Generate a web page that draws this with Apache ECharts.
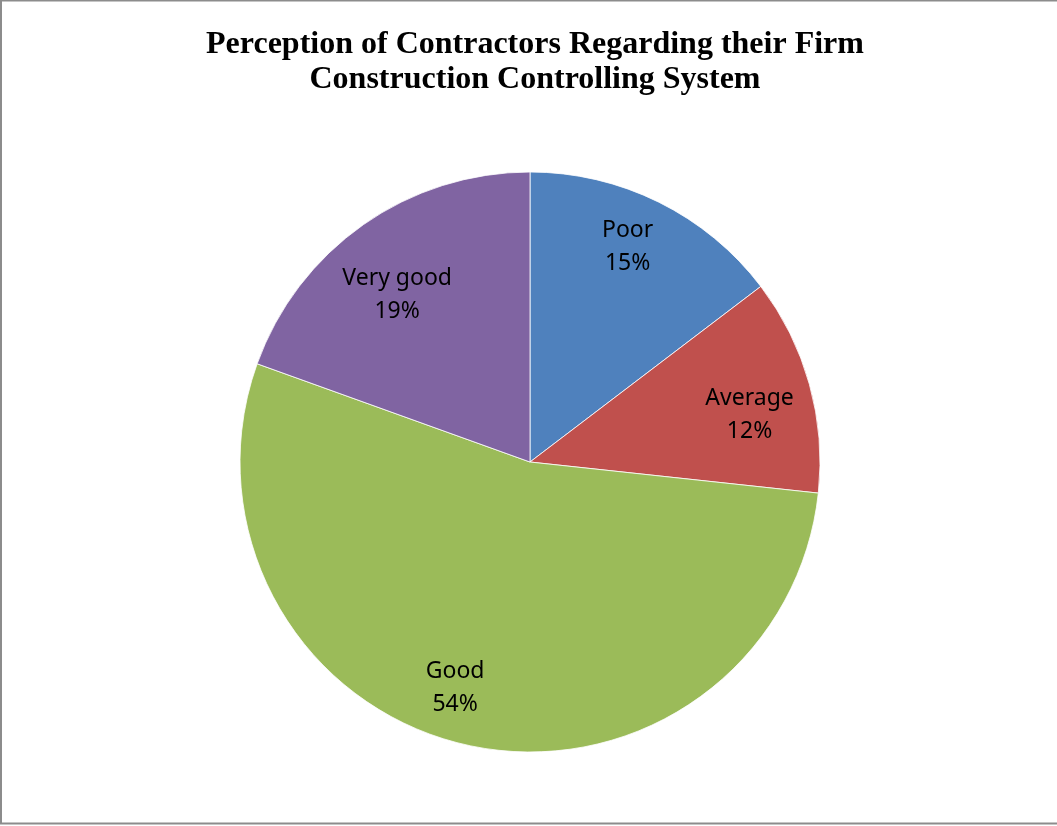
<!DOCTYPE html>
<html>
<head>
<meta charset="utf-8">
<script src="https://cdn.jsdelivr.net/npm/echarts@6/dist/echarts.min.js"></script>
<style>
html,body{margin:0;padding:0;background:#fff;}
#chart{width:1057px;height:826px;}
</style>
</head>
<body>
<div id="chart"></div>
<script>
var categories = ['Poor', 'Average', 'Good', 'Very good'];
var values = [14.65, 12.06, 53.79, 19.5];
var percentLabels = ['15%', '12%', '54%', '19%'];
var colors = ['#4F81BD', '#C0504D', '#9BBB59', '#8064A2'];
var labelShift = [[-5, -8], [-3, 15], [-23, 1], [0, 22]];

var chart = echarts.init(document.getElementById('chart'));
var pieData = categories.map(function (c, i) {
  return { name: c, value: values[i], itemStyle: { color: colors[i] } };
});
var labelData = categories.map(function (c, i) {
  return { name: c, value: values[i] };
});

chart.setOption({
  animation: false,
  title: {
    text: 'Perception of Contractors Regarding their Firm\nConstruction Controlling System',
    left: 530,
    textAlign: 'center',
    top: 22,
    textStyle: {
      fontFamily: 'Liberation Serif',
      fontWeight: 'bold',
      fontSize: 32,
      lineHeight: 35,
      color: '#000'
    }
  },
  graphic: [{
    type: 'rect',
    shape: { x: 1, y: 0.5, width: 1070, height: 823 },
    style: { fill: 'none', stroke: '#8c8c8c', lineWidth: 2 },
    silent: true
  }],
  series: [{
    type: 'pie',
    center: [530, 462],
    radius: [0, 290],
    startAngle: 90,
    clockwise: true,
    silent: true,
    label: { show: false },
    labelLine: { show: false },
    itemStyle: { borderColor: '#ffffff', borderWidth: 0.8 },
    data: pieData
  }, {
    type: 'pie',
    center: [530, 462],
    radius: [166, 290],
    startAngle: 90,
    clockwise: true,
    silent: true,
    itemStyle: { color: 'rgba(0,0,0,0)' },
    label: {
      show: true,
      position: 'inside',
      fontFamily: 'Noto Sans',
      fontSize: 23,
      lineHeight: 33,
      color: '#000',
      formatter: function (p) {
        return p.name + '\n' + percentLabels[p.dataIndex];
      }
    },
    labelLayout: function (p) {
      var s = labelShift[p.dataIndex];
      return { dx: s[0], dy: s[1] };
    },
    labelLine: { show: false },
    data: labelData
  }]
});
</script>
</body>
</html>
